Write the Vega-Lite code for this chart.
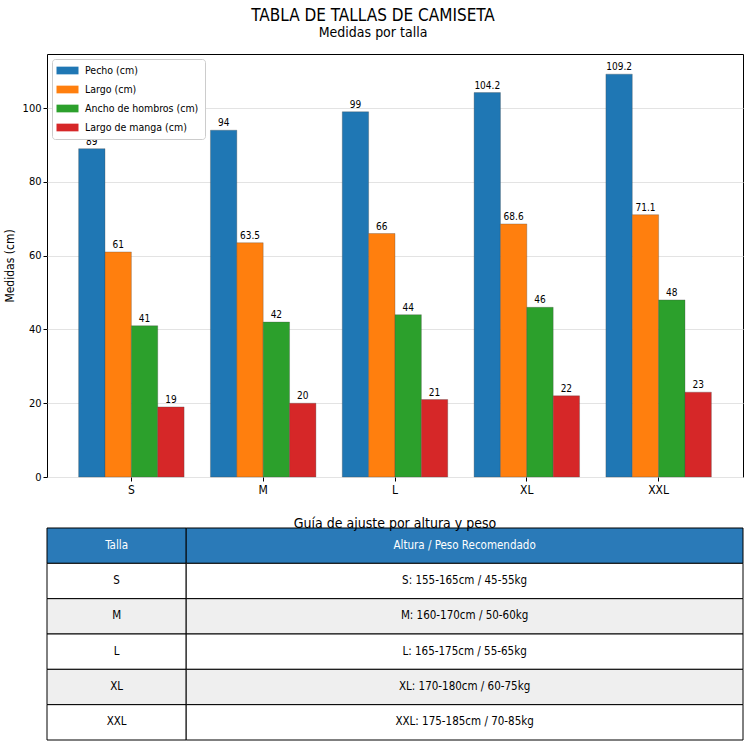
{
  "$schema": "https://vega.github.io/schema/vega-lite/v6.json",
  "padding": {"left": 2, "top": 6, "right": 2, "bottom": 6},
  "background": "white",
  "config": {"font": "DejaVu Sans Condensed, DejaVu Sans", "view": {"stroke": null}},
  "title": {"text": "TABLA DE TALLAS DE CAMISETA", "subtitle": "Medidas por talla", "fontSize": 17, "subtitleFontSize": 14, "fontWeight": "normal", "subtitlePadding": 1, "anchor": "middle", "color": "black", "subtitleColor": "black", "offset": 13},
  "spacing": 20,
  "resolve": {"scale": {"color": "independent", "fill": "independent", "x": "independent", "y": "independent"}},
  "vconcat": [
    {
      "width": 696,
      "height": 423,
      "view": {"stroke": "black", "strokeWidth": 1},
      "data": {"values": [
        {"talla": "S", "serie": "Pecho (cm)", "valor": 89},
        {"talla": "S", "serie": "Largo (cm)", "valor": 61},
        {"talla": "S", "serie": "Ancho de hombros (cm)", "valor": 41},
        {"talla": "S", "serie": "Largo de manga (cm)", "valor": 19},
        {"talla": "M", "serie": "Pecho (cm)", "valor": 94},
        {"talla": "M", "serie": "Largo (cm)", "valor": 63.5},
        {"talla": "M", "serie": "Ancho de hombros (cm)", "valor": 42},
        {"talla": "M", "serie": "Largo de manga (cm)", "valor": 20},
        {"talla": "L", "serie": "Pecho (cm)", "valor": 99},
        {"talla": "L", "serie": "Largo (cm)", "valor": 66},
        {"talla": "L", "serie": "Ancho de hombros (cm)", "valor": 44},
        {"talla": "L", "serie": "Largo de manga (cm)", "valor": 21},
        {"talla": "XL", "serie": "Pecho (cm)", "valor": 104.2},
        {"talla": "XL", "serie": "Largo (cm)", "valor": 68.6},
        {"talla": "XL", "serie": "Ancho de hombros (cm)", "valor": 46},
        {"talla": "XL", "serie": "Largo de manga (cm)", "valor": 22},
        {"talla": "XXL", "serie": "Pecho (cm)", "valor": 109.2},
        {"talla": "XXL", "serie": "Largo (cm)", "valor": 71.1},
        {"talla": "XXL", "serie": "Ancho de hombros (cm)", "valor": 48},
        {"talla": "XXL", "serie": "Largo de manga (cm)", "valor": 23}
      ]},
      "encoding": {
        "x": {"field": "talla", "type": "nominal", "sort": ["S", "M", "L", "XL", "XXL"], "scale": {"paddingInner": 0.2, "paddingOuter": 0.24}, "axis": {"title": null, "labelAngle": 0, "labelFontSize": 12, "labelColor": "black", "tickColor": "black", "domain": false, "tickSize": 4, "labelPadding": 3}},
        "xOffset": {"field": "serie", "type": "nominal", "sort": ["Pecho (cm)", "Largo (cm)", "Ancho de hombros (cm)", "Largo de manga (cm)"], "scale": {"paddingInner": 0, "paddingOuter": 0}},
        "y": {"field": "valor", "type": "quantitative", "scale": {"domain": [0, 114.66], "nice": false}, "axis": {"title": "Medidas (cm)", "values": [0, 20, 40, 60, 80, 100], "grid": true, "gridColor": "#e3e3e3", "domain": false, "tickColor": "black", "tickSize": 4, "labelColor": "black", "labelFontSize": 11, "titleFontSize": 12, "titleFontWeight": "normal", "titleColor": "black", "titlePadding": 6}}
      },
      "layer": [
        {
          "mark": {"type": "bar", "stroke": "#444444", "strokeWidth": 0.5, "strokeOpacity": 0.6},
          "encoding": {
            "color": {"field": "serie", "type": "nominal", "sort": ["Pecho (cm)", "Largo (cm)", "Ancho de hombros (cm)", "Largo de manga (cm)"], "scale": {"range": ["#1f77b4", "#ff7f0e", "#2ca02c", "#d62728"]},
              "legend": {"orient": "top-left", "offset": 5, "title": null, "fillColor": "white", "strokeColor": "#cccccc", "padding": 6, "cornerRadius": 3, "symbolType": "M-2,-0.7H2V0.7H-2Z", "symbolSize": 121, "symbolStrokeWidth": 0, "symbolOffset": 4, "labelOffset": 12, "labelFontSize": 10.5, "labelColor": "black", "rowPadding": 8}}
          }
        },
        {
          "mark": {"type": "text", "dy": -7, "fontSize": 10, "color": "black"},
          "encoding": {"text": {"field": "valor", "type": "quantitative"}}
        }
      ]
    },
    {
      "width": 696,
      "height": 212,
      "title": {"text": "Guía de ajuste por altura y peso", "fontSize": 14, "fontWeight": "normal", "offset": -3, "color": "black"},
      "data": {"values": [
        {"talla": "Talla", "guia": "Altura / Peso Recomendado", "tipo": "cabecera"},
        {"talla": "S", "guia": "S: 155-165cm / 45-55kg", "tipo": "impar"},
        {"talla": "M", "guia": "M: 160-170cm / 50-60kg", "tipo": "par"},
        {"talla": "L", "guia": "L: 165-175cm / 55-65kg", "tipo": "impar"},
        {"talla": "XL", "guia": "XL: 170-180cm / 60-75kg", "tipo": "par"},
        {"talla": "XXL", "guia": "XXL: 175-185cm / 70-85kg", "tipo": "impar"}
      ]},
      "encoding": {
        "y": {"field": "talla", "type": "nominal", "sort": null, "scale": {"paddingInner": 0, "paddingOuter": 0}, "axis": null}
      },
      "layer": [
        {
          "mark": {"type": "rect", "stroke": "black", "strokeWidth": 1},
          "encoding": {
            "x": {"datum": 0, "type": "quantitative", "scale": {"domain": [0, 5], "nice": false, "zero": false}, "axis": null},
            "x2": {"datum": 1},
            "fill": {"field": "tipo", "type": "nominal", "scale": {"domain": ["cabecera", "impar", "par"], "range": ["#2a7ab8", "#ffffff", "#efefef"]}, "legend": null}
          }
        },
        {
          "mark": {"type": "rect", "stroke": "black", "strokeWidth": 1},
          "encoding": {
            "x": {"datum": 1, "type": "quantitative"},
            "x2": {"datum": 5},
            "fill": {"field": "tipo", "type": "nominal", "legend": null}
          }
        },
        {
          "mark": {"type": "text", "fontSize": 11.5},
          "encoding": {
            "x": {"datum": 0.5, "type": "quantitative"},
            "text": {"field": "talla"},
            "color": {"condition": {"test": "datum.tipo === 'cabecera'", "value": "white"}, "value": "black"}
          }
        },
        {
          "mark": {"type": "text", "fontSize": 11.5},
          "encoding": {
            "x": {"datum": 3, "type": "quantitative"},
            "text": {"field": "guia"},
            "color": {"condition": {"test": "datum.tipo === 'cabecera'", "value": "white"}, "value": "black"}
          }
        }
      ]
    }
  ]
}
